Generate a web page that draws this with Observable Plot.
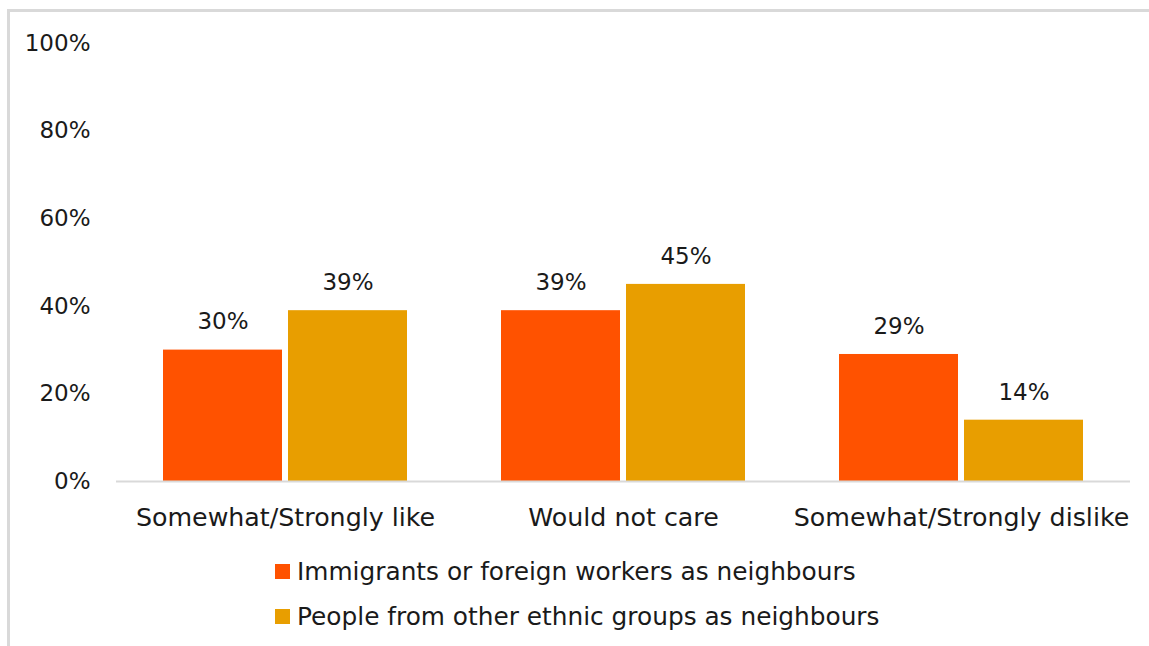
<!DOCTYPE html>
<html>
<head>
<meta charset="utf-8">
<script src="https://cdn.jsdelivr.net/npm/d3@7"></script>
<script src="https://cdn.jsdelivr.net/npm/@observablehq/plot@0.6"></script>
<style>
  html, body { margin: 0; padding: 0; background: #ffffff; }
  body { width: 1149px; height: 646px; overflow: hidden; position: relative;
         font-family: "DejaVu Sans", sans-serif; color: #1a1a1a; }
  #frame { position: absolute; left: 7px; top: 9px; width: 2000px; height: 2000px;
           border-top: 3px solid #d9d9d9; border-left: 3px solid #d9d9d9; }
  #chart { position: absolute; left: 0; top: 0; }
  #legend { position: absolute; left: 275px; top: 549px; }
  .item { display: flex; align-items: center; height: 45px; font-size: 24.8px; white-space: nowrap; }
  .sw { width: 15px; height: 15px; margin-right: 7px; flex: none; }
</style>
</head>
<body>
<div id="frame"></div>
<div id="chart"></div>
<div id="legend"></div>
<script>
const categories = ["Somewhat/Strongly like", "Would not care", "Somewhat/Strongly dislike"];
const seriesNames = ["Immigrants or foreign workers as neighbours", "People from other ethnic groups as neighbours"];
const immigrants = [30, 39, 29];
const ethnicGroups = [39, 45, 14];
const yTicks = [0, 20, 40, 60, 80, 100];
const colors = ["#ff5200", "#e89e00"];

const data = [];
categories.forEach((c, i) => {
  data.push({cat: c, series: seriesNames[0], value: immigrants[i]});
  data.push({cat: c, series: seriesNames[1], value: ethnicGroups[i]});
});

const chart = Plot.plot({
  width: 1149,
  height: 540,
  marginLeft: 115,
  marginRight: 19,
  marginTop: 43,
  marginBottom: 59,
  style: {fontFamily: "'DejaVu Sans', sans-serif", fontSize: "23px", color: "#1a1a1a", background: "transparent"},
  fx: {domain: categories, padding: 0, label: null},
  x: {domain: seriesNames, paddingInner: 0.048, paddingOuter: 0.376, axis: null},
  y: {domain: [0, 100], axis: null},
  color: {domain: seriesNames, range: colors},
  marks: [
    Plot.axisY({ticks: yTicks, tickSize: 0, tickPadding: 26, tickFormat: d => d + "%", fontSize: 23, label: null}),
    Plot.axisFx({anchor: "bottom", tickSize: 0, tickPadding: 27, fontSize: 25.3, label: null}),
    Plot.barY(data, {fx: "cat", x: "series", y: "value", fill: "series"}),
    Plot.ruleY([0], {stroke: "#d9d9d9", strokeWidth: 2}),
    Plot.text(data, {fx: "cat", x: "series", y: "value", text: d => d.value + "%", dy: -28, lineAnchor: "middle", fontSize: 23, fill: "#1a1a1a"})
  ]
});
document.getElementById("chart").appendChild(chart);

const legend = document.getElementById("legend");
seriesNames.forEach((name, i) => {
  const item = document.createElement("div");
  item.className = "item";
  const sw = document.createElement("span");
  sw.className = "sw";
  sw.style.background = colors[i];
  const label = document.createElement("span");
  label.textContent = name;
  item.appendChild(sw);
  item.appendChild(label);
  legend.appendChild(item);
});
</script>
</body>
</html>
